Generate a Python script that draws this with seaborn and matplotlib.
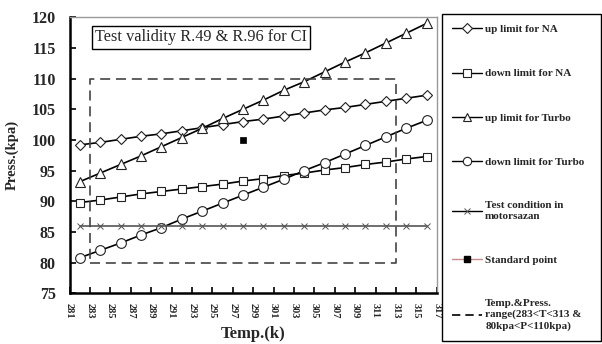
import numpy as np
import pandas as pd
import matplotlib
matplotlib.use("Agg")
import matplotlib.pyplot as plt
import seaborn as sns
from matplotlib.lines import Line2D

# Temperatures (K) at which the limits were evaluated
temp = [282, 284, 286, 288, 290, 292, 294, 296, 298,
        300, 302, 304, 306, 308, 310, 312, 314, 316]

# Pressure limits (kPa)
up_na = [99.2, 99.6, 100.1, 100.6, 101.0, 101.5, 102.0, 102.5, 103.0,
         103.4, 103.9, 104.4, 104.9, 105.3, 105.8, 106.3, 106.8, 107.3]
down_na = [89.8, 90.2, 90.7, 91.2, 91.6, 92.0, 92.4, 92.8, 93.3,
           93.7, 94.2, 94.6, 95.1, 95.5, 96.0, 96.4, 96.9, 97.3]
up_turbo = [93.2, 94.6, 96.0, 97.4, 98.9, 100.4, 101.9, 103.5, 105.0,
            106.5, 108.1, 109.5, 111.1, 112.7, 114.2, 115.8, 117.4, 119.0]
down_turbo = [80.8, 82.0, 83.2, 84.5, 85.7, 87.1, 88.4, 89.7, 91.0,
              92.3, 93.6, 95.0, 96.3, 97.7, 99.1, 100.5, 101.9, 103.2]
test_cond = [86] * len(temp)

# Standard reference point
std_T = [298]
std_P = [100]

# Valid test range
range_T = [283, 313]
range_P = [80, 110]

labels = ["up limit for NA", "down limit for NA", "up limit for Turbo",
          "down limit for Turbo", "Test condition in\nmotorsazan",
          "Standard point",
          "Temp.&Press.\nrange(283<T<313 &\n80kpa<P<110kpa)"]

x_ticks = list(range(281, 318, 2))
y_ticks = list(range(75, 121, 5))

sns.set_theme(style="white")
plt.rcParams["font.family"] = ["Liberation Serif", "DejaVu Serif"]

fig = plt.figure(figsize=(6.02, 3.44), dpi=100)
ax = fig.add_axes([0.1156, 0.1474, 0.61, 0.8023])

mk = dict(markerfacecolor="white", markeredgecolor="#222222",
          markeredgewidth=0.8)
sns.lineplot(x=temp, y=up_na, ax=ax, color="black", lw=1.2,
             marker="D", ms=5, **mk)
sns.lineplot(x=temp, y=down_na, ax=ax, color="black", lw=1.2,
             marker="s", ms=6, **mk)
sns.lineplot(x=temp, y=up_turbo, ax=ax, color="black", lw=1.2,
             marker="^", ms=7, **mk)
sns.lineplot(x=temp, y=down_turbo, ax=ax, color="black", lw=1.2,
             marker="o", ms=7, **mk)
sns.lineplot(x=temp, y=test_cond, ax=ax, color="#555555", lw=1.2,
             marker="x", ms=5, markeredgewidth=0.7,
             markeredgecolor="#555555")
sns.scatterplot(x=std_T, y=std_P, ax=ax, color="black", marker="s",
                s=22, edgecolor="black", linewidth=0.5, zorder=5)

# Dashed outline of the valid test range
rect = pd.DataFrame({
    "T": [range_T[0], range_T[1], range_T[1], range_T[0], range_T[0]],
    "P": [range_P[0], range_P[0], range_P[1], range_P[1], range_P[0]],
})
ax.plot(rect["T"], rect["P"], color="#444444", lw=1.2,
        linestyle=(0, (6, 3.5)))

ax.set_xlim(281, 317)
ax.set_ylim(75, 120)
ax.set_xticks(x_ticks)
ax.set_yticks(y_ticks)
ax.set_xticklabels([str(t) for t in x_ticks], rotation=-90,
                   fontsize=7.5, fontweight="bold")
ax.set_yticklabels([str(t) for t in y_ticks], fontsize=11.5,
                   fontweight="bold")
ax.tick_params(axis="both", direction="in", length=4, width=1.2,
               color="black", left=True, bottom=True)
ax.tick_params(axis="x", pad=7)
ax.tick_params(axis="y", pad=10)
ax.set_xlabel("Temp.(k)", fontsize=12, fontweight="bold", labelpad=5)
ax.set_ylabel("Press.(kpa)", fontsize=10.5, fontweight="bold", labelpad=9)

for side in ("left", "bottom"):
    ax.spines[side].set_color("black")
    ax.spines[side].set_linewidth(1.8)
for side in ("top", "right"):
    ax.spines[side].set_color("#999999")
    ax.spines[side].set_linewidth(1.0)

ax.text(0.358, 0.927, "Test validity R.49 & R.96 for CI",
        transform=ax.transAxes, ha="center", va="center", fontsize=11.7,
        bbox=dict(boxstyle="square,pad=0.2", facecolor="white",
                  edgecolor="black", linewidth=1.0))

handles = [
    Line2D([], [], color="black", lw=1.0, marker="D", ms=5, **mk),
    Line2D([], [], color="black", lw=1.0, marker="s", ms=6, **mk),
    Line2D([], [], color="black", lw=1.0, marker="^", ms=6, **mk),
    Line2D([], [], color="black", lw=1.0, marker="o", ms=6, **mk),
    Line2D([], [], color="black", lw=1.0, marker="x", ms=5,
           markeredgewidth=0.7, markeredgecolor="#555555"),
    Line2D([], [], color="#c88a8a", lw=1.0, marker="s", ms=5,
           markerfacecolor="black", markeredgecolor="black"),
    Line2D([], [], color="black", lw=1.2, linestyle=(0, (5, 3))),
]
leg = fig.legend(handles, labels, loc="upper left",
                 bbox_to_anchor=(0.734, 0.006, 0.264, 0.952),
                 mode="expand", frameon=True,
                 fancybox=False, edgecolor="black", framealpha=1,
                 prop=dict(family="Liberation Serif", weight="bold",
                           size=8),
                 labelspacing=3.1, handlelength=2.7, handletextpad=0.3,
                 borderpad=0.9, borderaxespad=0)
leg.get_frame().set_linewidth(1.0)

fig.savefig("out.png", dpi=100)
